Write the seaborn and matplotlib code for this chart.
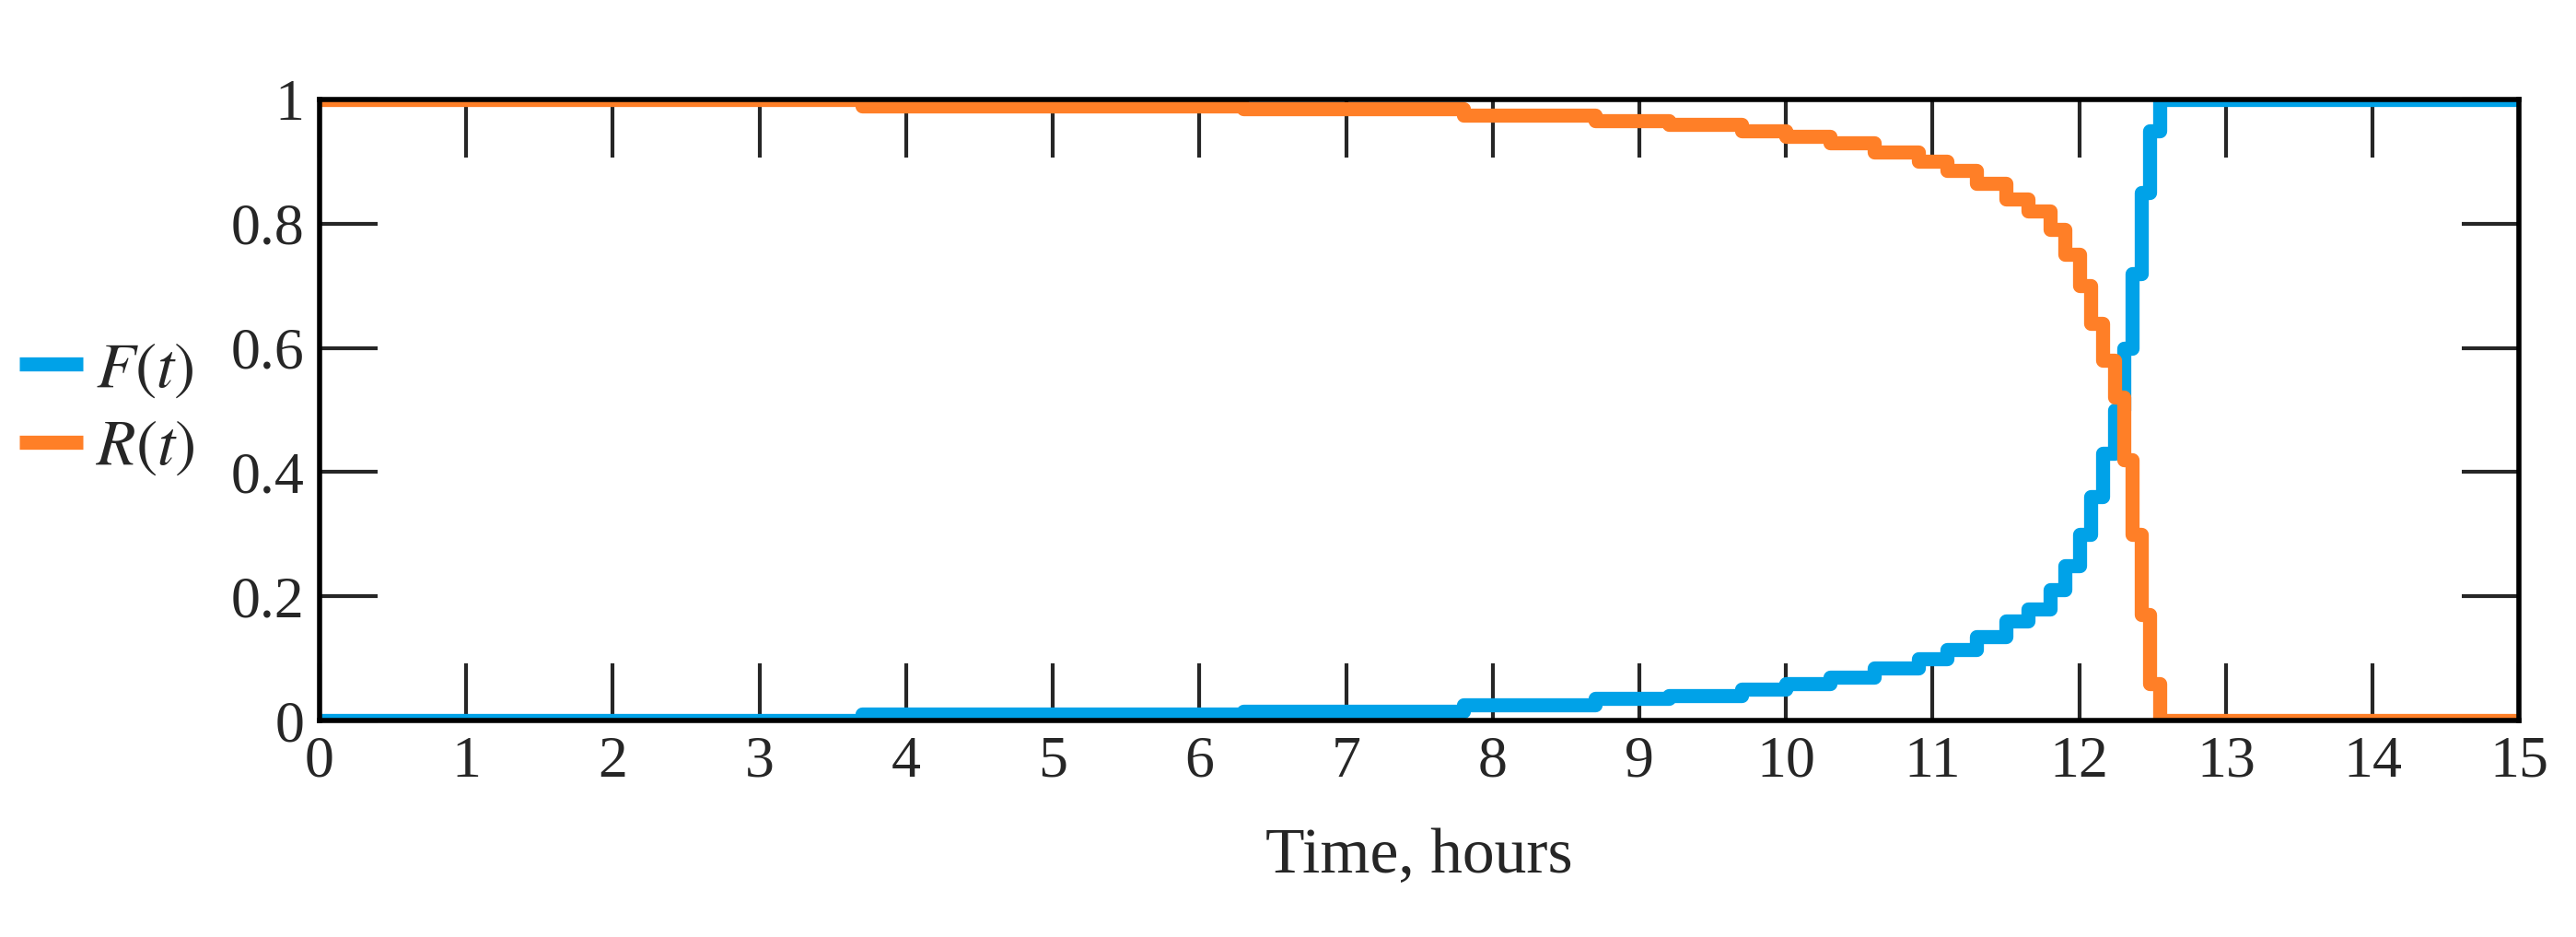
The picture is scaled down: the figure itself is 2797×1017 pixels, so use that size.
import matplotlib
matplotlib.use("Agg")
import matplotlib.pyplot as plt
import seaborn as sns
import pandas as pd

sns.set_style("white")
plt.rcParams["font.family"] = ["Liberation Serif", "DejaVu Serif"]
plt.rcParams["mathtext.fontset"] = "stix"

# data (step curves)
time_h = [0, 3.7, 6.3, 7.8, 8.7, 9.2, 9.7, 10.0, 10.3, 10.6, 10.9, 11.1, 11.3, 11.5,
          11.65, 11.8, 11.9, 12.0, 12.08, 12.16, 12.24, 12.3, 12.36, 12.42, 12.48, 12.55, 15]
f_vals = [0.0, 0.01, 0.015, 0.025, 0.035, 0.04, 0.05, 0.06, 0.07, 0.085, 0.1, 0.115,
          0.135, 0.16, 0.18, 0.21, 0.25, 0.3, 0.36, 0.43, 0.5, 0.6, 0.72, 0.85, 0.95, 1.0, 1.0]
r_vals = [1.0, 0.99, 0.985, 0.975, 0.965, 0.96, 0.95, 0.94, 0.93, 0.915, 0.9, 0.885,
          0.865, 0.84, 0.82, 0.79, 0.75, 0.7, 0.64, 0.58, 0.52, 0.42, 0.3, 0.17, 0.06, 0.0, 0.0]

df = pd.DataFrame({"t": time_h, "F": f_vals, "R": r_vals})

fig = plt.figure(figsize=(27.97, 10.17), dpi=100)
ax = fig.add_axes([0.124, 0.231, 0.854, 0.663])

sns.lineplot(data=df, x="t", y="F", ax=ax, color="#00a2e8", lw=11, drawstyle="steps-post",
             label="$F(t)$", solid_capstyle="butt")
sns.lineplot(data=df, x="t", y="R", ax=ax, color="#ff7f27", lw=11, drawstyle="steps-post",
             label="$R(t)$", solid_capstyle="butt")

ax.set_xlim(0, 15)
ax.set_ylim(0, 1)
ax.set_xticks(range(16))
ax.set_yticks([0, 0.2, 0.4, 0.6, 0.8, 1])
ax.set_yticklabels(["0", "0.2", "0.4", "0.6", "0.8", "1"])
ax.tick_params(direction="in", length=45, width=3, labelsize=46, top=True, right=True,
               bottom=True, left=True, pad=12)
for s in ax.spines.values():
    s.set_linewidth(4)
    s.set_color("black")
ax.set_xlabel("Time, hours", fontsize=50, labelpad=30)
ax.set_ylabel("")

ax.legend(loc="center right", bbox_to_anchor=(-0.045, 0.5), frameon=False, fontsize=50,
          handlelength=1.0, handletextpad=0.2, borderaxespad=0, labelspacing=0.3)

fig.savefig("out.png", dpi=100)
